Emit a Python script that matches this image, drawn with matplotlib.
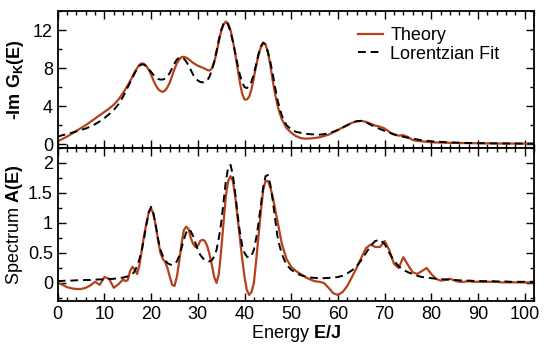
import numpy as np
import matplotlib
matplotlib.use("Agg")
import matplotlib.pyplot as plt
from matplotlib.ticker import MultipleLocator

plt.rcParams['font.family'] = ['Liberation Sans', 'DejaVu Sans']
plt.rcParams['mathtext.fontset'] = 'custom'
plt.rcParams['mathtext.rm'] = 'Liberation Sans'
plt.rcParams['mathtext.bf'] = 'Liberation Sans:bold'

# Energy grid (E/J): finer sampling where the peaks are
energy = np.concatenate([np.arange(0, 14, 1.0),
                         np.arange(14, 48, 0.5),
                         np.arange(48, 103, 1.0)])

# Top panel: -Im G_K(E)
theory_top = [
    # 0 .. 13
    0.3, 0.55, 0.8, 1.1, 1.4, 1.7, 2.0, 2.35, 2.7, 3.05,
    3.4, 3.75, 4.15, 4.7,
    # 14 .. 47.5
    5.4, 5.8, 6.2, 6.65, 7.1, 7.6, 8.0, 8.35, 8.5, 8.45,
    8.2, 7.8, 7.3, 6.7, 6.2, 5.8, 5.6, 5.5, 5.65, 6.0,
    6.5, 7.2, 7.9, 8.5, 8.9, 9.15, 9.2, 9.1, 8.95, 8.75,
    8.55, 8.4, 8.25, 8.15, 8.05, 7.95, 7.8, 7.75, 7.95, 8.6,
    9.6, 10.8, 11.9, 12.6, 12.9, 12.7, 12.0, 10.9, 9.5, 8.0,
    6.5, 5.3, 4.7, 4.7, 5.0, 5.8, 7.0, 8.3, 9.4, 10.2,
    10.6, 10.5, 9.7, 8.4, 6.8, 5.4, 4.2, 3.3,
    # 48 .. 102
    2.6, 1.7,
    1.2, 0.85, 0.65, 0.58, 0.6, 0.65, 0.72, 0.85, 1.0, 1.25,
    1.5, 1.75, 2.0, 2.25, 2.4, 2.45, 2.35, 2.15, 1.95, 1.85,
    1.65, 1.3, 1.0, 0.9, 0.95, 0.75, 0.45, 0.35, 0.3, 0.25,
    0.2, 0.18, 0.16, 0.15, 0.14, 0.13, 0.12, 0.12, 0.11, 0.1,
    0.1, 0.09, 0.09, 0.08, 0.08, 0.07, 0.07, 0.07, 0.06, 0.06,
    0.06, 0.05, 0.05,
]
fit_top = [
    # 0 .. 13
    0.8, 0.95, 1.05, 1.2, 1.35, 1.5, 1.65, 1.85, 2.1, 2.4,
    2.75, 3.15, 3.6, 4.2,
    # 14 .. 47.5
    5.0, 5.5, 6.0, 6.5, 7.0, 7.5, 7.9, 8.25, 8.4, 8.35,
    8.2, 7.9, 7.6, 7.3, 7.0, 6.85, 6.8, 6.8, 6.9, 7.15,
    7.5, 8.0, 8.5, 8.9, 9.1, 9.15, 9.0, 8.7, 8.3, 7.8,
    7.3, 6.95, 6.7, 6.55, 6.5, 6.55, 6.7, 7.1, 7.8, 8.7,
    9.8, 11.0, 12.0, 12.65, 12.9, 12.55, 11.8, 10.8, 9.6, 8.4,
    7.3, 6.5, 6.0, 5.9, 6.1, 6.6, 7.4, 8.4, 9.5, 10.3,
    10.7, 10.5, 9.7, 8.7, 7.5, 6.1, 4.8, 3.8,
    # 48 .. 102
    3.0, 2.0,
    1.55, 1.3, 1.2, 1.1, 1.05, 1.02, 1.0, 1.05, 1.15, 1.3,
    1.5, 1.75, 2.0, 2.25, 2.42, 2.45, 2.3, 2.05, 1.8, 1.6,
    1.4, 1.2, 1.05, 0.9, 0.78, 0.68, 0.58, 0.5, 0.42, 0.36,
    0.3, 0.27, 0.24, 0.21, 0.19, 0.17, 0.15, 0.14, 0.13, 0.12,
    0.11, 0.1, 0.1, 0.09, 0.09, 0.08, 0.08, 0.07, 0.07, 0.07,
    0.06, 0.06, 0.06,
]

# Bottom panel: spectrum A(E)
theory_bot = [
    # 0 .. 13
    0.0, -0.03, -0.07, -0.09, -0.1, -0.1, -0.08, -0.04, 0.02, -0.03,
    0.1, 0.07, -0.08, -0.02,
    # 14 .. 47.5
    0.06, 0.03, 0.05, 0.2, 0.27, 0.22, 0.15, 0.3, 0.55, 0.8,
    1.0, 1.18, 1.24, 1.15, 0.95, 0.7, 0.5, 0.4, 0.35, 0.25,
    0.1, -0.03, -0.05, 0.1, 0.35, 0.65, 0.88, 0.94, 0.9, 0.75,
    0.65, 0.6, 0.62, 0.7, 0.72, 0.7, 0.62, 0.48, 0.3, 0.1,
    0.0, 0.15, 0.55, 1.0, 1.45, 1.7, 1.78, 1.7, 1.45, 1.1,
    0.75, 0.4, 0.1, -0.12, -0.2, -0.15, 0.0, 0.38, 0.8, 1.2,
    1.55, 1.7, 1.7, 1.6, 1.45, 1.25, 1.05, 0.85,
    # 48 .. 102
    0.65, 0.4,
    0.27, 0.2, 0.15, 0.1, 0.06, 0.03, 0.02, 0.0, -0.08, -0.17,
    -0.2, -0.15, -0.05, 0.1, 0.25, 0.42, 0.58, 0.64, 0.6, 0.6,
    0.7, 0.55, 0.32, 0.25, 0.43, 0.3, 0.18, 0.15, 0.2, 0.25,
    0.15, 0.07, 0.04, 0.05, 0.07, 0.04, 0.02, 0.02, 0.03, 0.02,
    0.02, 0.02, 0.02, 0.02, 0.02, 0.01, 0.01, 0.01, 0.01, 0.01,
    0.01, 0.01, 0.01,
]
fit_bot = [
    # 0 .. 13
    0.03, 0.035, 0.04, 0.04, 0.045, 0.045, 0.05, 0.05, 0.055, 0.06,
    0.06, 0.065, 0.07, 0.08,
    # 14 .. 47.5
    0.09, 0.1, 0.11, 0.13, 0.15, 0.2, 0.28, 0.4, 0.55, 0.75,
    0.98, 1.18, 1.27, 1.15, 0.95, 0.73, 0.55, 0.45, 0.38, 0.33,
    0.31, 0.3, 0.31, 0.36, 0.45, 0.58, 0.72, 0.84, 0.9, 0.86,
    0.78, 0.66, 0.55, 0.47, 0.42, 0.38, 0.36, 0.36, 0.38, 0.44,
    0.55, 0.75, 1.0, 1.35, 1.7, 1.92, 1.97, 1.8, 1.5, 1.15,
    0.85, 0.62, 0.5, 0.44, 0.42, 0.46, 0.55, 0.75, 1.0, 1.3,
    1.6, 1.78, 1.8, 1.65, 1.4, 1.1, 0.8, 0.62,
    # 48 .. 102
    0.48, 0.3,
    0.22, 0.17, 0.13, 0.11, 0.09, 0.085, 0.08, 0.08, 0.085, 0.09,
    0.1, 0.12, 0.16, 0.21, 0.28, 0.38, 0.5, 0.62, 0.7, 0.72,
    0.65, 0.5, 0.37, 0.28, 0.22, 0.18, 0.15, 0.12, 0.1, 0.09,
    0.08, 0.07, 0.065, 0.06, 0.055, 0.05, 0.045, 0.04, 0.04, 0.035,
    0.035, 0.03, 0.03, 0.03, 0.025, 0.025, 0.025, 0.02, 0.02, 0.02,
    0.02, 0.02, 0.02,
]

theory_color = '#b5401c'

fig = plt.figure(figsize=(5.5, 3.47), dpi=100)
ax1 = fig.add_axes([0.105, 0.5735, 0.866, 0.3945])
ax2 = fig.add_axes([0.105, 0.1326, 0.866, 0.4409])

ax1.plot(energy, theory_top, color=theory_color, lw=1.6, label='Theory')
ax1.plot(energy, fit_top, color='black', lw=1.4, ls=(0, (4, 2.5)), label='Lorentzian Fit')
ax2.plot(energy, theory_bot, color=theory_color, lw=1.6)
ax2.plot(energy, fit_bot, color='black', lw=1.4, ls=(0, (4, 2.5)))

for ax in (ax1, ax2):
    ax.set_xlim(0, 102)
    ax.xaxis.set_major_locator(MultipleLocator(10))
    ax.xaxis.set_minor_locator(MultipleLocator(2))
    ax.tick_params(which='both', direction='in', top=True, right=True,
                   labelsize=13, width=1.0)
    ax.tick_params(which='major', length=6)
    ax.tick_params(which='minor', length=3)
    for s in ax.spines.values():
        s.set_linewidth(1.3)

ax1.set_ylim(-0.4, 14.0)
ax1.yaxis.set_major_locator(MultipleLocator(4))
ax1.yaxis.set_minor_locator(MultipleLocator(2))
ax1.tick_params(labelbottom=False)

ax2.set_ylim(-0.3, 2.25)
ax2.yaxis.set_minor_locator(MultipleLocator(0.25))
ax2.set_yticks([0, 0.5, 1, 1.5, 2])
ax2.set_yticklabels(['0', '0.5', '1', '1.5', '2'])

ax1.set_ylabel(r'-Im G$_{\mathbf{K}}$(E)', fontsize=13, fontweight='bold')
ax2.set_ylabel(r'Spectrum $\mathbf{A(E)}$', fontsize=13)
ax2.set_xlabel(r'Energy $\mathbf{E/J}$', fontsize=13, labelpad=0)
ax1.yaxis.set_label_coords(-0.067, 0.5)
ax2.yaxis.set_label_coords(-0.069, 0.5)

ax1.legend(loc='upper left', bbox_to_anchor=(0.6, 0.99), frameon=False,
           fontsize=13, handlelength=1.4, handletextpad=0.4,
           labelspacing=0.1, borderpad=0.3)

fig.savefig('out.png', dpi=100)
